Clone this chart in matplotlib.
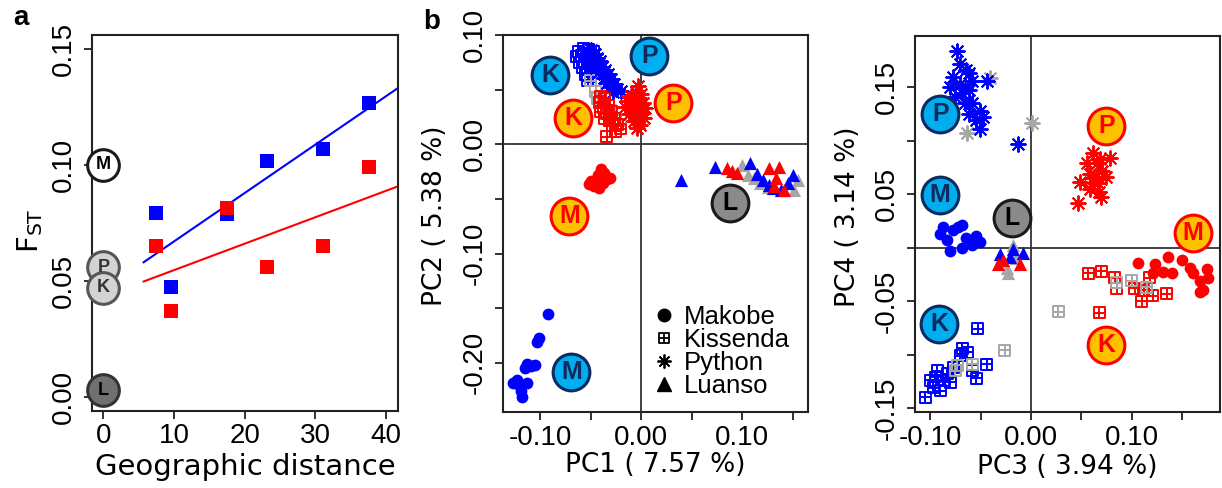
import numpy as np
import matplotlib.pyplot as plt
from matplotlib.path import Path
from matplotlib.lines import Line2D

plt.rcParams['font.family'] = ['Liberation Sans', 'DejaVu Sans']

# ---- panel a: Fst vs geographic distance ----
dist = [7.5, 9.6, 17.5, 23.2, 31.1, 37.6]
fst_blue = [0.0793, 0.0474, 0.0790, 0.1017, 0.1069, 0.1267]
fst_red = [0.0651, 0.0371, 0.0815, 0.0560, 0.0651, 0.0991]
a_tags = [('M', 0.100, 'white'), ('P', 0.056, 'light'), ('K', 0.047, 'light'), ('L', 0.003, 'dark')]

# ---- panel b: PC1 / PC2 ----
b_blue_makobe = [(-0.092, -0.155), (-0.101, -0.177), (-0.103, -0.181), (-0.109, -0.203), (-0.113, -0.201),
                 (-0.105, -0.202), (-0.115, -0.205), (-0.127, -0.218), (-0.121, -0.220), (-0.113, -0.218),
                 (-0.118, -0.231), (-0.123, -0.216), (-0.119, -0.226)]
b_red_makobe = [(-0.040, -0.023), (-0.037, -0.026), (-0.043, -0.028), (-0.045, -0.033), (-0.050, -0.034),
                (-0.047, -0.038), (-0.042, -0.040), (-0.038, -0.035), (-0.034, -0.032), (-0.031, -0.031),
                (-0.036, -0.030), (-0.052, -0.036), (-0.044, -0.036)]
b_blue_kissenda = [(-0.062, 0.085), (-0.057, 0.088), (-0.052, 0.087), (-0.047, 0.085), (-0.064, 0.080),
                   (-0.059, 0.081), (-0.054, 0.082), (-0.049, 0.080), (-0.061, 0.075), (-0.056, 0.076),
                   (-0.051, 0.074), (-0.058, 0.070), (-0.053, 0.069), (-0.048, 0.072), (-0.055, 0.064),
                   (-0.050, 0.062), (-0.045, 0.066), (-0.053, 0.058)]
b_gray_kissenda = [(-0.050, 0.058), (-0.043, 0.042), (-0.030, 0.031), (-0.020, 0.022), (-0.045, 0.048)]
b_red_kissenda = [(-0.040, 0.044), (-0.036, 0.042), (-0.041, 0.038), (-0.037, 0.034), (-0.032, 0.036),
                  (-0.040, 0.030), (-0.034, 0.028), (-0.029, 0.030), (-0.036, 0.024), (-0.031, 0.022),
                  (-0.026, 0.024), (-0.028, 0.017), (-0.023, 0.018), (-0.025, 0.012), (-0.020, 0.014),
                  (-0.034, 0.007)]
b_blue_python = [(-0.050, 0.086), (-0.046, 0.083), (-0.044, 0.079), (-0.041, 0.076), (-0.047, 0.074),
                 (-0.039, 0.071), (-0.036, 0.068), (-0.042, 0.066), (-0.033, 0.064), (-0.037, 0.061),
                 (-0.030, 0.060), (-0.034, 0.056), (-0.027, 0.055), (-0.031, 0.052), (-0.024, 0.051),
                 (-0.020, 0.049), (-0.028, 0.048), (-0.045, 0.070)]
b_red_python = [(-0.003, 0.053), (-0.005, 0.048), (0.000, 0.046), (-0.010, 0.044), (-0.002, 0.042),
                (-0.014, 0.040), (-0.006, 0.039), (0.002, 0.038), (-0.011, 0.036), (-0.003, 0.034),
                (0.004, 0.033), (-0.016, 0.034), (-0.008, 0.031), (-0.001, 0.029), (-0.012, 0.028),
                (-0.004, 0.025), (0.003, 0.024), (-0.007, 0.021), (-0.001, 0.018), (-0.004, 0.015)]
b_gray_luanso = [(0.100, -0.019), (0.106, -0.028), (0.118, -0.035), (0.155, -0.033), (0.151, -0.042),
                 (0.125, -0.039), (0.112, -0.031)]
b_blue_luanso = [(0.039, -0.033), (0.073, -0.021), (0.108, -0.017), (0.115, -0.027), (0.121, -0.033),
                 (0.130, -0.040), (0.145, -0.035), (0.150, -0.028), (0.138, -0.042), (0.126, -0.037)]
b_red_luanso = [(0.085, -0.022), (0.095, -0.026), (0.126, -0.022), (0.136, -0.021), (0.133, -0.031),
                (0.141, -0.042), (0.131, -0.038), (0.090, -0.024)]
b_tags = [('K', -0.090, 0.063, 'blue'), ('P', 0.008, 0.081, 'blue'), ('K', -0.067, 0.024, 'red'),
          ('P', 0.032, 0.038, 'red'), ('M', -0.071, -0.066, 'red'), ('M', -0.069, -0.208, 'blue'),
          ('L', 0.088, -0.054, 'gray')]

# ---- panel c: PC3 / PC4 ----
c_blue_python = [(-0.073, 0.184), (-0.070, 0.172), (-0.064, 0.166), (-0.077, 0.159), (-0.061, 0.163),
                 (-0.080, 0.150), (-0.070, 0.153), (-0.068, 0.144), (-0.061, 0.147), (-0.058, 0.135),
                 (-0.051, 0.128), (-0.061, 0.125), (-0.054, 0.119), (-0.048, 0.122), (-0.051, 0.111),
                 (-0.044, 0.156), (-0.058, 0.156), (-0.075, 0.141), (-0.065, 0.135), (-0.013, 0.097)]
c_gray_python = [(-0.041, 0.158), (-0.063, 0.107), (0.001, 0.116)]
c_red_python = [(0.062, 0.088), (0.078, 0.084), (0.066, 0.079), (0.071, 0.072), (0.059, 0.069),
                (0.049, 0.061), (0.067, 0.060), (0.059, 0.055), (0.070, 0.047), (0.047, 0.042),
                (0.075, 0.066), (0.056, 0.079), (0.069, 0.083), (0.062, 0.065), (0.068, 0.052)]
c_blue_makobe = [(-0.087, 0.019), (-0.077, 0.016), (-0.068, 0.021), (-0.090, 0.013), (-0.083, 0.007),
                 (-0.080, -0.003), (-0.064, 0.009), (-0.054, 0.011), (-0.051, 0.005), (-0.068, 0.000),
                 (-0.058, 0.002), (-0.072, 0.019)]
c_red_makobe = [(0.106, -0.014), (0.123, -0.015), (0.136, -0.009), (0.150, -0.012), (0.158, -0.019),
                (0.175, -0.020), (0.176, -0.028), (0.168, -0.031), (0.171, -0.040), (0.131, -0.023),
                (0.121, -0.024), (0.140, -0.024), (0.161, -0.024), (0.168, -0.042)]
c_blue_kissenda = [(-0.053, -0.076), (-0.068, -0.094), (-0.070, -0.101), (-0.063, -0.098), (-0.044, -0.109),
                   (-0.054, -0.122), (-0.058, -0.115), (-0.093, -0.115), (-0.100, -0.124), (-0.087, -0.124),
                   (-0.080, -0.126), (-0.090, -0.134), (-0.105, -0.140), (-0.083, -0.118), (-0.097, -0.131),
                   (-0.077, -0.112), (-0.095, -0.121)]
c_gray_kissenda = [(-0.026, -0.096), (-0.073, -0.110), (-0.058, -0.109), (-0.075, -0.115), (0.027, -0.060),
                   (0.085, -0.033), (0.100, -0.031), (0.115, -0.037)]
c_red_kissenda = [(0.057, -0.024), (0.070, -0.022), (0.083, -0.028), (0.085, -0.038), (0.103, -0.038),
                  (0.110, -0.050), (0.121, -0.045), (0.135, -0.043), (0.118, -0.028), (0.068, -0.061),
                  (0.112, -0.040)]
c_gray_luanso = [(-0.023, -0.024), (-0.018, 0.002), (-0.024, -0.019), (-0.015, -0.010)]
c_blue_luanso = [(-0.031, -0.006), (-0.021, -0.009), (-0.008, -0.005), (-0.018, -0.001)]
c_red_luanso = [(-0.033, -0.015), (-0.011, -0.015), (-0.028, -0.012)]
c_tags = [('P', -0.090, 0.125, 'blue'), ('M', -0.090, 0.049, 'blue'), ('K', -0.091, -0.071, 'blue'),
          ('L', -0.019, 0.028, 'gray'), ('P', 0.075, 0.114, 'red'), ('M', 0.161, 0.014, 'red'),
          ('K', 0.075, -0.091, 'red')]

pop_names = ['Makobe', 'Kissenda', 'Python', 'Luanso']

BLUE, RED, GREY = '#0000FF', '#FF0000', '#A6A6A6'
TAG_STYLE = {'blue': ('#00AEEF', '#0D2B5E', '#0D2B5E'),
             'red': ('#FFC000', '#FF0000', '#FF0000'),
             'gray': ('#8A8A8A', '#1A1A1A', '#000000'),
             'white': ('#FFFFFF', '#1A1A1A', '#000000'),
             'light': ('#D3D3D3', '#555555', '#333333'),
             'dark': ('#707070', '#333333', '#000000')}

# square with a cross inside (R pch 12)
boxplus = Path([(-1, -1), (1, -1), (1, 1), (-1, 1), (-1, -1), (0, -1), (0, 1), (-1, 0), (1, 0)],
               [Path.MOVETO, Path.LINETO, Path.LINETO, Path.LINETO, Path.CLOSEPOLY,
                Path.MOVETO, Path.LINETO, Path.MOVETO, Path.LINETO])
asterisk = (8, 2, 0)


def pts(ax, data, kind, col):
    xy = np.array(data)
    if kind == 'makobe':
        ax.scatter(xy[:, 0], xy[:, 1], s=72, color=col, linewidths=0, zorder=3)
    elif kind == 'kissenda':
        ax.scatter(xy[:, 0], xy[:, 1], s=62, marker=boxplus, facecolors='none', edgecolors=col,
                   linewidths=1.4, zorder=3)
    elif kind == 'python':
        ax.scatter(xy[:, 0], xy[:, 1], s=110, marker=asterisk, color=col, linewidths=1.4, zorder=3)
    else:
        ax.scatter(xy[:, 0], xy[:, 1], s=90, marker='^', color=col, linewidths=0, zorder=3)


def tag(ax, x, y, letter, style, size=700, fs=18):
    fc, ec, tc = TAG_STYLE[style]
    ax.scatter([x], [y], s=size, facecolor=fc, edgecolor=ec, linewidths=2.2, zorder=5, clip_on=False)
    ax.text(x, y, letter, ha='center', va='center', fontsize=fs, fontweight='bold', color=tc, zorder=6)


def style_axes(ax, xticks, xlabels, yticks, ylabels):
    for sp in ax.spines.values():
        sp.set_linewidth(1.5)
        sp.set_color('#222222')
    ax.set_xticks(xticks)
    ax.set_xticklabels(xlabels)
    ax.set_yticks(yticks)
    ax.set_yticklabels(ylabels, rotation=90, va='center')
    ax.tick_params(direction='out', length=6, width=1.3, labelsize=20, color='#222222')
    ax.tick_params(axis='x', pad=3)
    ax.tick_params(axis='y', pad=5)


fig = plt.figure(figsize=(12.22, 4.88), dpi=100)

# ---------- a ----------
ax = fig.add_axes([0.0753, 0.1578, 0.2504, 0.7705])
ax.scatter(dist, fst_blue, marker='s', s=105, color=BLUE, linewidths=0, zorder=3)
ax.scatter(dist, fst_red, marker='s', s=105, color=RED, linewidths=0, zorder=3)
xx = np.array([5.7, 45])
for vals, col in [(fst_blue, BLUE), (fst_red, RED)]:
    k, b0 = np.polyfit(dist, vals, 1)
    ax.plot(xx, k * xx + b0, color=col, lw=1.5, zorder=2)
for letter, yv, st in a_tags:
    tag(ax, 0, yv, letter, st, size=520, fs=13)
ax.set_xlim(-1.6, 41.7)
ax.set_ylim(-0.006, 0.156)
style_axes(ax, [0, 10, 20, 30, 40], ['0', '10', '20', '30', '40'],
           [0, 0.05, 0.10, 0.15], ['0.00', '0.05', '0.10', '0.15'])
ax.set_xlabel('Geographic distance', fontsize=21, family='DejaVu Sans')
ax.set_ylabel(r'F$_{\mathregular{ST}}$', fontsize=21, family='DejaVu Sans')
ax.xaxis.set_label_coords(0.5, -0.149)
ax.xaxis.label.set_va('center')
ax.yaxis.set_label_coords(-0.203, 0.48)
ax.yaxis.label.set_va('center')
fig.text(0.017, 0.963, 'a', fontsize=20, fontweight='bold', ha='center', va='center')

# ---------- b ----------
ax = fig.add_axes([0.4116, 0.1557, 0.2496, 0.7725])
ax.axhline(0, color='#333333', lw=1.3, zorder=1)
ax.axvline(0, color='#333333', lw=1.3, zorder=1)
pts(ax, b_blue_makobe, 'makobe', BLUE)
pts(ax, b_red_makobe, 'makobe', RED)
pts(ax, b_blue_kissenda, 'kissenda', BLUE)
pts(ax, b_gray_kissenda, 'kissenda', GREY)
pts(ax, b_blue_python, 'python', BLUE)
pts(ax, b_red_kissenda, 'kissenda', RED)
pts(ax, b_red_python, 'python', RED)
pts(ax, b_gray_luanso, 'luanso', GREY)
pts(ax, b_blue_luanso, 'luanso', BLUE)
pts(ax, b_red_luanso, 'luanso', RED)
for letter, xv, yv, st in b_tags:
    tag(ax, xv, yv, letter, st)
ax.set_xlim(-0.1366, 0.165)
ax.set_ylim(-0.245, 0.1)
style_axes(ax, [-0.10, -0.05, 0, 0.05, 0.10, 0.15], ['-0.10', '', '0.00', '', '0.10', ''],
           [-0.20, -0.15, -0.10, -0.05, 0, 0.05, 0.10], ['-0.20', '', '-0.10', '', '0.00', '', '0.10'])
ax.set_xlabel('PC1 ( 7.57 %)', fontsize=19, family='DejaVu Sans')
ax.set_ylabel('PC2 ( 5.38 %)', fontsize=19, family='DejaVu Sans')
ax.xaxis.set_label_coords(0.5, -0.141)
ax.xaxis.label.set_va('center')
ax.yaxis.set_label_coords(-0.223, 0.52)
ax.yaxis.label.set_va('center')
handles = [Line2D([], [], ls='none', marker='o', color='black', markersize=9),
           Line2D([], [], ls='none', marker=boxplus, mfc='none', mec='black', mew=1.3, markersize=7),
           Line2D([], [], ls='none', marker=asterisk, color='black', mew=1.3, markersize=10),
           Line2D([], [], ls='none', marker='^', color='black', markersize=10)]
ax.legend(handles, pop_names, loc='lower right', bbox_to_anchor=(0.99, -0.005), frameon=False,
          fontsize=18.5, handletextpad=0.25, labelspacing=-0.03, handlelength=1.0, borderaxespad=0.2)
fig.text(0.3535, 0.955, 'b', fontsize=20, fontweight='bold', ha='center', va='center')

# ---------- c ----------
ax = fig.add_axes([0.7488, 0.1557, 0.2496, 0.7705])
ax.axhline(0, color='#333333', lw=1.3, zorder=1)
ax.axvline(0, color='#333333', lw=1.3, zorder=1)
pts(ax, c_gray_python, 'python', GREY)
pts(ax, c_blue_python, 'python', BLUE)
pts(ax, c_red_python, 'python', RED)
pts(ax, c_blue_makobe, 'makobe', BLUE)
pts(ax, c_red_makobe, 'makobe', RED)
pts(ax, c_blue_kissenda, 'kissenda', BLUE)
pts(ax, c_red_kissenda, 'kissenda', RED)
pts(ax, c_gray_kissenda, 'kissenda', GREY)
pts(ax, c_gray_luanso, 'luanso', GREY)
pts(ax, c_blue_luanso, 'luanso', BLUE)
pts(ax, c_red_luanso, 'luanso', RED)
for letter, xv, yv, st in c_tags:
    tag(ax, xv, yv, letter, st)
ax.set_xlim(-0.115, 0.1877)
ax.set_ylim(-0.1537, 0.1977)
style_axes(ax, [-0.10, -0.05, 0, 0.05, 0.10, 0.15], ['-0.10', '', '0.00', '', '0.10', ''],
           [-0.15, -0.10, -0.05, 0, 0.05, 0.10, 0.15], ['-0.15', '', '-0.05', '', '0.05', '', '0.15'])
ax.set_xlabel('PC3 ( 3.94 %)', fontsize=19, family='DejaVu Sans')
ax.set_ylabel('PC4 ( 3.14 %)', fontsize=19, family='DejaVu Sans')
ax.xaxis.set_label_coords(0.5, -0.146)
ax.xaxis.label.set_va('center')
ax.yaxis.set_label_coords(-0.22, 0.52)
ax.yaxis.label.set_va('center')

fig.savefig('out.png', dpi=100)
